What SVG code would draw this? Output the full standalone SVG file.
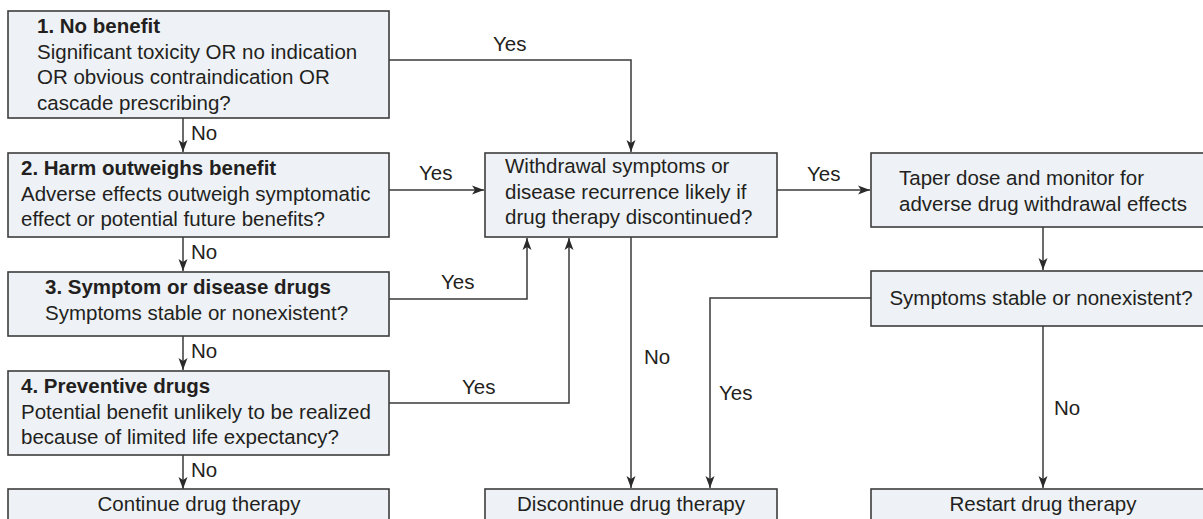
<svg xmlns="http://www.w3.org/2000/svg" width="1203" height="519" viewBox="0 0 1203 519">
<style>
.box{fill:#eef2f6;stroke:#3d3d3d;stroke-width:1.6}
.t{font-family:"Liberation Sans",Arial,sans-serif;font-size:20.5px;fill:#231f20}
.b{font-weight:bold}
.c{text-anchor:middle}
.ln{fill:none;stroke:#3a3a3a;stroke-width:1.5}
</style>
<defs>
<marker id="ah" viewBox="0 0 12 10" refX="12" refY="5" markerWidth="12" markerHeight="10" markerUnits="userSpaceOnUse" orient="auto">
<path d="M0,0.5 L12,5 L0,9.5 L3,5 Z" fill="#2a2a2a"/>
</marker>
</defs>
<rect width="1203" height="519" fill="#ffffff"/>
<g id="connectors">
<path class="ln" d="M183,118 V152" marker-end="url(#ah)"/>
<path class="ln" d="M183,237 V271" marker-end="url(#ah)"/>
<path class="ln" d="M183,336 V370" marker-end="url(#ah)"/>
<path class="ln" d="M183,455 V489" marker-end="url(#ah)"/>
<path class="ln" d="M389,60 H631 V152" marker-end="url(#ah)"/>
<path class="ln" d="M389,190 H484" marker-end="url(#ah)"/>
<path class="ln" d="M389,299 H527 V238" marker-end="url(#ah)"/>
<path class="ln" d="M389,403 H569 V238" marker-end="url(#ah)"/>
<path class="ln" d="M777,190 H870" marker-end="url(#ah)"/>
<path class="ln" d="M631,237 V488" marker-end="url(#ah)"/>
<path class="ln" d="M1043,227 V270" marker-end="url(#ah)"/>
<path class="ln" d="M871,298 H710 V488" marker-end="url(#ah)"/>
<path class="ln" d="M1043,326 V488" marker-end="url(#ah)"/>
<text class="t" x="191" y="140">No</text>
<text class="t" x="191" y="259">No</text>
<text class="t" x="191" y="358">No</text>
<text class="t" x="191" y="477">No</text>
<text class="t" x="493" y="51">Yes</text>
<text class="t" x="419" y="180">Yes</text>
<text class="t" x="807" y="181">Yes</text>
<text class="t" x="441" y="289">Yes</text>
<text class="t" x="462" y="394">Yes</text>
<text class="t" x="644" y="364">No</text>
<text class="t" x="719" y="400">Yes</text>
<text class="t" x="1054" y="415">No</text>
</g>
<g id="n1">
<rect class="box" x="8" y="11" width="381" height="107"/>
<text class="t b" x="37" y="33">1. No benefit</text>
<text class="t" x="37" y="58.5">Significant toxicity OR no indication</text>
<text class="t" x="37" y="84">OR obvious contraindication OR</text>
<text class="t" x="37" y="109.5">cascade prescribing?</text>
</g>
<g id="n2">
<rect class="box" x="8" y="153" width="381" height="84"/>
<text class="t b" x="21" y="175">2. Harm outweighs benefit</text>
<text class="t" x="21" y="200.5">Adverse effects outweigh symptomatic</text>
<text class="t" x="21" y="226">effect or potential future benefits?</text>
</g>
<g id="n3">
<rect class="box" x="8" y="272" width="381" height="64"/>
<text class="t b" x="45" y="294">3. Symptom or disease drugs</text>
<text class="t" x="45" y="320">Symptoms stable or nonexistent?</text>
</g>
<g id="n4">
<rect class="box" x="8" y="371" width="381" height="84"/>
<text class="t b" x="21" y="393">4. Preventive drugs</text>
<text class="t" x="21" y="418.5">Potential benefit unlikely to be realized</text>
<text class="t" x="21" y="444">because of limited life expectancy?</text>
</g>
<g id="n5">
<rect class="box" x="8" y="489" width="381" height="45"/>
<text class="t c" x="199" y="511">Continue drug therapy</text>
</g>
<g id="n6">
<rect class="box" x="485" y="153" width="292" height="84"/>
<text class="t" x="505" y="173">Withdrawal symptoms or</text>
<text class="t" x="505" y="199">disease recurrence likely if</text>
<text class="t" x="505" y="224">drug therapy discontinued?</text>
</g>
<g id="n7">
<rect class="box" x="485" y="489" width="292" height="45"/>
<text class="t c" x="631" y="511">Discontinue drug therapy</text>
</g>
<g id="n8">
<rect class="box" x="871" y="153" width="334" height="74"/>
<text class="t" x="899" y="185">Taper dose and monitor for</text>
<text class="t" x="899" y="211">adverse drug withdrawal effects</text>
</g>
<g id="n9">
<rect class="box" x="871" y="271" width="334" height="55"/>
<text class="t c" x="1041" y="305">Symptoms stable or nonexistent?</text>
</g>
<g id="n10">
<rect class="box" x="871" y="489" width="334" height="45"/>
<text class="t c" x="1043" y="511">Restart drug therapy</text>
</g>
</svg>
